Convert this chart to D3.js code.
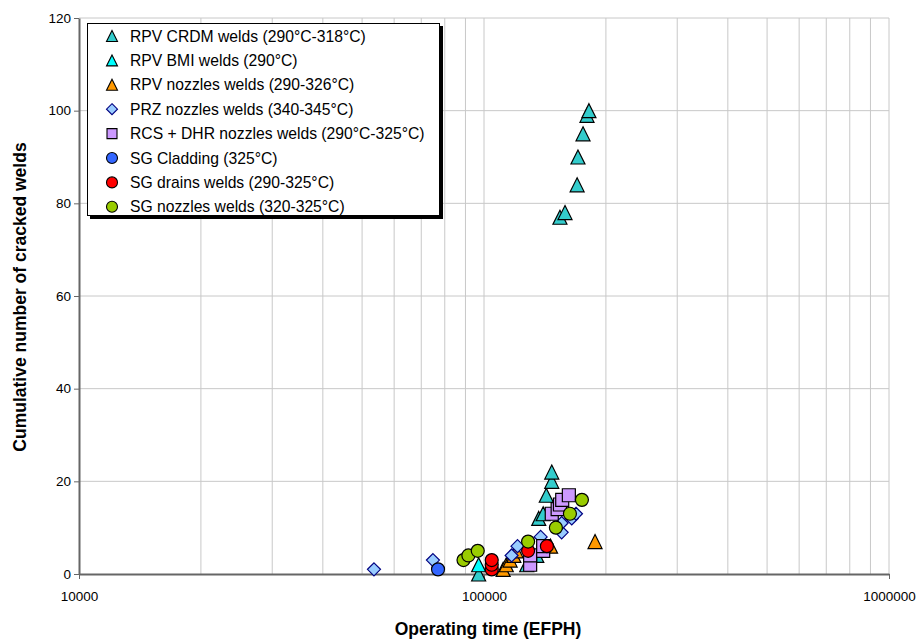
<!DOCTYPE html>
<html>
<head>
<meta charset="utf-8">
<script src="https://cdn.jsdelivr.net/npm/d3@7"></script>
<style>
  body { margin: 0; background: #fff; }
  text { font-family: Arial, "Liberation Sans", sans-serif; }
</style>
</head>
<body>
<div id="vis"></div>
<script>
// data, [EFPH, cumulative cracked welds]
var crdmWelds = [[97000,0],[127500,2],[135000,4],[136500,12],[140000,13],[142500,17],[147000,20],[147000,22],
  [154000,77],[158500,78],[169800,84],[170600,90],[175600,95],[179600,99],[181600,100]];
var bmiWelds = [[97000,2]];
var rpvNozzles = [[111500,1],[113500,2],[116000,3],[118500,4],[120000,5],[146000,6],[188000,7]];
var przNozzles = [[53500,1],[74800,3],[117000,4],[121000,6],[138000,8],[155500,9],[155500,11],[164700,12],[168700,13]];
var rcsNozzles = [[130000,2],[130000,4],[140000,5],[140000,6],[147000,13],[152000,14],[154000,15],[156000,16],[162000,17]];
var sgCladding = [[77000,1]];
var sgDrains = [[104500,1],[104500,2],[104500,3],[128500,5],[143000,6]];
var sgNozzles = [[89000,3],[91500,4],[96500,5],[128500,7],[150500,10],[163000,13],[174500,16]];

var seriesNames = ["RPV CRDM welds (290°C-318°C)", "RPV BMI welds (290°C)", "RPV nozzles welds (290-326°C)",
  "PRZ nozzles welds (340-345°C)", "RCS + DHR nozzles welds (290°C-325°C)", "SG Cladding (325°C)",
  "SG drains welds (290-325°C)", "SG nozzles welds (320-325°C)"];

var xTicks = [10000, 100000, 1000000];
var yTicks = [0, 20, 40, 60, 80, 100, 120];

var series = [
  { name: seriesNames[0], data: crdmWelds, shape: "tri", fill: "#33CCCC", stroke: "#000" },
  { name: seriesNames[1], data: bmiWelds, shape: "tri", fill: "#00FFFF", stroke: "#000" },
  { name: seriesNames[2], data: rpvNozzles, shape: "tri", fill: "#FF9900", stroke: "#000" },
  { name: seriesNames[3], data: przNozzles, shape: "dia", fill: "#99CCFF", stroke: "#000080" },
  { name: seriesNames[4], data: rcsNozzles, shape: "sq", fill: "#CC99FF", stroke: "#000" },
  { name: seriesNames[5], data: sgCladding, shape: "circ", fill: "#3366FF", stroke: "#000" },
  { name: seriesNames[6], data: sgDrains, shape: "circ", fill: "#FF0000", stroke: "#000" },
  { name: seriesNames[7], data: sgNozzles, shape: "circ", fill: "#99CC00", stroke: "#000" }
];

// SVG geometry
var width = 919, height = 639;
var plot = { left: 79, right: 889, top: 18, bottom: 574 };

var x = d3.scaleLog().domain([10000, 1000000]).range([plot.left, plot.right]);
var y = d3.scaleLinear().domain([0, 120]).range([plot.bottom, plot.top]);

var svg = d3.select("#vis").append("svg")
  .attr("width", width)
  .attr("height", height);

// marker paths, centred on their bounding box (like Excel)
function markerPath(shape, s) {
  var h = s / 2;
  if (shape === "tri") return "M0," + (-h) + "L" + h + "," + h + "L" + (-h) + "," + h + "Z";
  if (shape === "dia") return "M0," + (-h) + "L" + h + ",0L0," + h + "L" + (-h) + ",0Z";
  if (shape === "sq") return "M" + (-h) + "," + (-h) + "H" + h + "V" + h + "H" + (-h) + "Z";
  return d3.symbol().type(d3.symbolCircle).size(Math.PI * h * h)();
}
var sizes = { tri: 14, dia: 13, sq: 13, circ: 13 };
var legendSizes = { tri: 11, dia: 11, sq: 10, circ: 11 };

// gridlines
var minor = [];
[10000, 100000].forEach(function(d) {
  for (var k = 2; k <= 10; k++) minor.push(d * k);
});
svg.append("g").selectAll("line.vg")
  .data(minor)
  .enter().append("line")
  .attr("x1", function(d) { return x(d); })
  .attr("x2", function(d) { return x(d); })
  .attr("y1", plot.top)
  .attr("y2", plot.bottom)
  .attr("stroke", "#C8C8C8")
  .attr("stroke-width", 1);

svg.append("g").selectAll("line.hg")
  .data(yTicks.slice(1))
  .enter().append("line")
  .attr("x1", plot.left)
  .attr("x2", plot.right)
  .attr("y1", function(d) { return y(d); })
  .attr("y2", function(d) { return y(d); })
  .attr("stroke", "#C8C8C8")
  .attr("stroke-width", 1);

// axes
var yAxis = svg.append("g")
  .attr("transform", "translate(" + plot.left + ",0)")
  .call(d3.axisLeft(y).tickValues(yTicks).tickSize(5).tickPadding(3).tickSizeOuter(0));
var xAxis = svg.append("g")
  .attr("transform", "translate(0," + plot.bottom + ")")
  .call(d3.axisBottom(x).tickValues(xTicks).tickFormat(d3.format("d")).tickSize(5).tickPadding(12).tickSizeOuter(0));

[yAxis, xAxis].forEach(function(a) {
  a.select(".domain").attr("stroke", "#666").attr("stroke-width", 2);
  a.selectAll(".tick line").attr("stroke", "#666");
  a.selectAll(".tick text").attr("font-size", 13.5).attr("fill", "#000")
    .attr("font-family", "Arial, 'Liberation Sans', sans-serif");
});

// axis titles
svg.append("text")
  .attr("x", 488)
  .attr("y", 635)
  .attr("text-anchor", "middle")
  .attr("font-size", 17.5)
  .attr("font-weight", "bold")
  .text("Operating time (EFPH)");

svg.append("text")
  .attr("transform", "translate(26,297) rotate(-90)")
  .attr("text-anchor", "middle")
  .attr("font-size", 17.5)
  .attr("font-weight", "bold")
  .text("Cumulative number of cracked welds");

// points
series.forEach(function(s) {
  svg.append("g").selectAll("path")
    .data(s.data)
    .enter().append("path")
    .attr("transform", function(d) { return "translate(" + x(d[0]) + "," + y(d[1]) + ")"; })
    .attr("d", markerPath(s.shape, sizes[s.shape]))
    .attr("fill", s.fill)
    .attr("stroke", s.stroke)
    .attr("stroke-width", 1.2);
});

// legend
var lg = svg.append("g");
lg.append("rect")
  .attr("x", 90).attr("y", 26).attr("width", 353).attr("height", 193)
  .attr("fill", "#000");
lg.append("rect")
  .attr("x", 87.5).attr("y", 23.5).attr("width", 352).attr("height", 192)
  .attr("fill", "#fff").attr("stroke", "#000").attr("stroke-width", 1);

var rows = lg.selectAll("g.row")
  .data(series)
  .enter().append("g")
  .attr("transform", function(d, i) { return "translate(112," + (36 + i * 24.4) + ")"; });

rows.append("path")
  .attr("d", function(d) { return markerPath(d.shape, legendSizes[d.shape]); })
  .attr("fill", function(d) { return d.fill; })
  .attr("stroke", function(d) { return d.stroke; })
  .attr("stroke-width", 1.1);

rows.append("text")
  .attr("x", 18)
  .attr("y", 5.5)
  .attr("font-size", 15.7)
  .text(function(d) { return d.name; });
</script>
</body>
</html>
